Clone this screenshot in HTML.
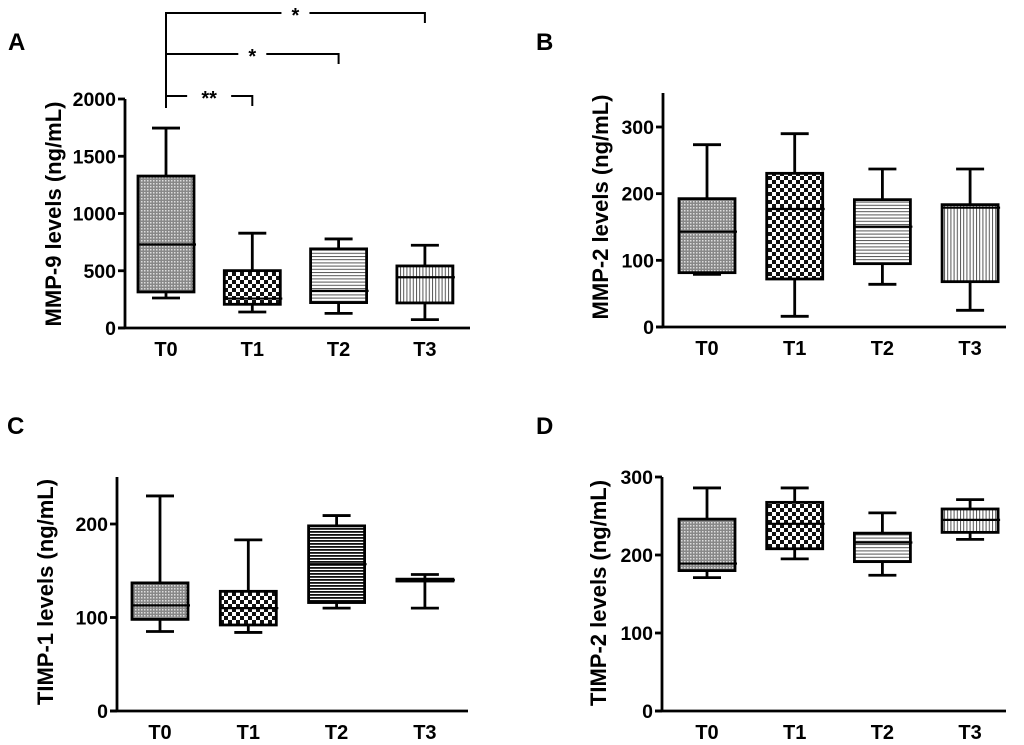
<!DOCTYPE html>
<html><head><meta charset="utf-8"><style>
html,body{margin:0;padding:0;background:#fff}
svg{display:block}
text{font-family:"Liberation Sans",Arial,sans-serif;font-weight:bold;fill:#000}
</style></head><body>
<svg id="chart" width="1024" height="745" viewBox="0 0 1024 745" xmlns="http://www.w3.org/2000/svg">
<defs>
<pattern id="pDots" width="3" height="3" patternUnits="userSpaceOnUse"><rect width="3" height="3" fill="#888"/><rect width="1.5" height="1.5" fill="#ddd"/></pattern>
<pattern id="pCheck" width="8" height="8" patternUnits="userSpaceOnUse"><rect width="8" height="8" fill="#fff"/><rect width="4" height="4" fill="#111"/><rect x="4" y="4" width="4" height="4" fill="#111"/></pattern>
<pattern id="pHoriz" width="4" height="3.2" patternUnits="userSpaceOnUse"><rect width="4" height="3.2" fill="#fff"/><rect width="4" height="1" fill="#555"/></pattern>
<pattern id="pVert" width="3.2" height="4" patternUnits="userSpaceOnUse"><rect width="3.2" height="4" fill="#fff"/><rect width="1" height="4" fill="#555"/></pattern>
<pattern id="pHorizDark" width="4" height="3" patternUnits="userSpaceOnUse"><rect width="4" height="3" fill="#fff"/><rect width="4" height="1.8" fill="#111"/></pattern>
</defs>
<g id="root"></g>
</svg>
<script>
const categories = ["T0","T1","T2","T3"];
// panel A: MMP-9
const aMin=[262,140,128,73], aQ1=[315,207,222,219], aMed=[729,257,324,443], aQ3=[1327,501,691,542], aMax=[1746,828,778,723];
const aTicks=[0,500,1000,1500,2000];
// panel B: MMP-2
const bMin=[79,16,64,25], bQ1=[81.5,72,95,68], bMed=[143,177,150.5,179], bQ3=[192.5,230.5,191,183.5], bMax=[273.5,290,237,237];
const bTicks=[0,100,200,300];
// panel C: TIMP-1
const cMin=[85,84,110,110], cQ1=[98,92,116,139], cMed=[113,110,157,140], cQ3=[137,128,198,141], cMax=[230,183,209,146];
const cTicks=[0,100,200];
// panel D: TIMP-2
const dMin=[171,195,174,220], dQ1=[180,208,191.5,229], dMed=[189,240,216,245], dQ3=[246,267.5,228,259], dMax=[286,286,254,271];
const dTicks=[0,100,200,300];
// significance brackets for panel A
const sigTo=[1,2,3], sigLabels=["**","*","*"];

const NS="http://www.w3.org/2000/svg";
const root=document.getElementById('root');
function mk(tag,attrs,parent){const e=document.createElementNS(NS,tag);for(const k in attrs)e.setAttribute(k,attrs[k]);(parent||root).appendChild(e);return e;}

function panel(cfg){
  const g=mk('g',{});
  
  
  const y=v=>cfg.y0-(v-0)/cfg.vmax*(cfg.y0-cfg.yTop);
  const x=i=>cfg.xs[0]+i*cfg.step;
  const sw=2.8;
  const ya=mk('line',{x1:cfg.ax,y1:cfg.axTop,x2:cfg.ax,y2:cfg.y0+1,stroke:'#000','stroke-width':sw},g);
  
  
  const xa=mk('line',{x1:cfg.ax-7,y1:cfg.y0,x2:cfg.axEnd,y2:cfg.y0,stroke:'#000','stroke-width':sw},g);
  
  
  cfg.ticks.forEach(t=>{
    mk('line',{x1:cfg.ax-7,y1:y(t),x2:cfg.ax,y2:y(t),stroke:'#000','stroke-width':sw},g);
    const tl=mk('text',{x:cfg.ax-9,y:y(t)+7,'text-anchor':'end','font-size':19.5},g);
    tl.textContent=t;
    
    
  });
  const yt=mk('text',{x:0,y:0,'text-anchor':'middle','font-size':22,transform:`translate(${cfg.tx},${cfg.ty}) rotate(-90)`},g);
  yt.textContent=cfg.title;
  
  
  const pl=mk('text',{x:cfg.lx,y:cfg.ly,'font-size':24},g);
  pl.textContent=cfg.letter;
  
  
  const bw=56, cw=28;
  categories.forEach((c,i)=>{
    const cx=x(i);
    const bg=mk('g',{},g);
    
    
    mk('line',{x1:cx,y1:y(cfg.max[i]),x2:cx,y2:y(cfg.q3[i]),stroke:'#000','stroke-width':sw},bg);
    mk('line',{x1:cx,y1:y(cfg.q1[i]),x2:cx,y2:y(cfg.min[i]),stroke:'#000','stroke-width':sw},bg);
    mk('line',{x1:cx-cw/2,y1:y(cfg.max[i]),x2:cx+cw/2,y2:y(cfg.max[i]),stroke:'#000','stroke-width':sw},bg);
    mk('line',{x1:cx-cw/2,y1:y(cfg.min[i]),x2:cx+cw/2,y2:y(cfg.min[i]),stroke:'#000','stroke-width':sw},bg);
    const top=y(cfg.q3[i]), bot=y(cfg.q1[i]);
    mk('rect',{x:cx-bw/2,y:top,width:bw,height:Math.max(bot-top,0.5),fill:`url(#${cfg.pats[i]})`,stroke:'#000','stroke-width':sw},bg);
    mk('line',{x1:cx-bw/2,y1:y(cfg.med[i]),x2:cx+bw/2+2,y2:y(cfg.med[i]),stroke:'#000','stroke-width':2.2},bg);
    const cl=mk('text',{x:cx,y:cfg.y0+28,'text-anchor':'middle','font-size':20},g);
    cl.textContent=c;
    
    
  });
  return {x,y,g};
}

const A=panel({name:'panel-a-mmp9',letter:'A',lx:8,ly:50,title:'MMP-9 levels (ng/mL)',tx:61,ty:214,
  ax:125,axTop:99,axEnd:470,y0:328,yTop:99,vmax:2000,xs:[166],step:86.3,ticks:aTicks,
  min:aMin,q1:aQ1,med:aMed,q3:aQ3,max:aMax,pats:['pDots','pCheck','pHoriz','pVert']});
panel({name:'panel-b-mmp2',letter:'B',lx:536,ly:50,title:'MMP-2 levels (ng/mL)',tx:608,ty:207,
  ax:663,axTop:93,axEnd:1006,y0:327,yTop:127,vmax:300,xs:[707],step:87.7,ticks:bTicks,
  min:bMin,q1:bQ1,med:bMed,q3:bQ3,max:bMax,pats:['pDots','pCheck','pHoriz','pVert']});
panel({name:'panel-c-timp1',letter:'C',lx:7,ly:434,title:'TIMP-1 levels (ng/mL)',tx:53,ty:592,
  ax:117,axTop:477,axEnd:468,y0:711,yTop:524,vmax:200,xs:[160],step:88.3,ticks:cTicks,
  min:cMin,q1:cQ1,med:cMed,q3:cQ3,max:cMax,pats:['pDots','pCheck','pHorizDark','pVert']});
panel({name:'panel-d-timp2',letter:'D',lx:536,ly:434,title:'TIMP-2 levels (ng/mL)',tx:606,ty:593,
  ax:662,axTop:477,axEnd:1006,y0:711,yTop:477,vmax:300,xs:[707],step:87.7,ticks:dTicks,
  min:dMin,q1:dQ1,med:dMed,q3:dQ3,max:dMax,pats:['pDots','pCheck','pHoriz','pVert']});

const bracketY=[96,54,13];
const x0=A.x(0);
mk('line',{x1:x0,y1:12,x2:x0,y2:108,stroke:'#000','stroke-width':2});
sigTo.forEach((to,k)=>{
  const bx=A.x(to), by=bracketY[k], mid=(x0+bx)/2, gap=k===0?22:14;
  const bg=mk('g',{});
  
  
  mk('polyline',{points:`${x0},${by} ${mid-gap},${by}`,fill:'none',stroke:'#000','stroke-width':2},bg);
  mk('polyline',{points:`${mid+gap},${by} ${bx},${by} ${bx},${by+10}`,fill:'none',stroke:'#000','stroke-width':2},bg);
  const t=mk('text',{x:mid,y:by+9,'text-anchor':'middle','font-size':20,'font-weight':'normal'},bg);
  t.textContent=sigLabels[k];
  
  
});
</script>
</body></html>
